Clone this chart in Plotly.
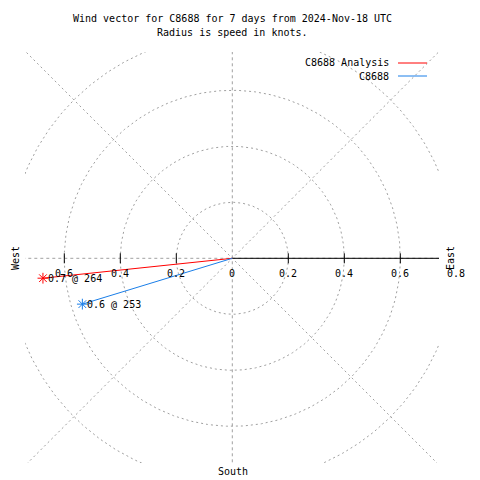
import numpy as np
import plotly.graph_objects as go

# ---- data ----
series_names = ["C8688 Analysis", "C8688"]
speeds = [0.68, 0.56]          # knots
directions = [264, 253]        # degrees (compass)
point_labels = ["0.7 @ 264", "0.6 @ 253"]
series_colors = ["#ff0000", "#1a7ee8"]

ring_values = [0.2, 0.4, 0.6, 0.8]
tick_values = [0.2, 0.4, 0.6]
right_tick_labels = ["0", "0.2", "0.4", "0.6", "0.8"]
right_tick_pos = [0.0, 0.2, 0.4, 0.6, 0.8]
left_tick_labels = ["0.2", "0.4", "0.6"]
left_tick_pos = [-0.2, -0.4, -0.6]
spoke_angles = [0, 45, 90, 135]

title_lines = ["Wind vector for C8688 for 7 days from 2024-Nov-18 UTC",
               "Radius is speed in knots."]

FONT = "DejaVu Sans Mono"
GRID = "#a0a0a0"

# page body has an 8px margin: design in reference pixels, shift by OFF
OFF = 8
W = H = 480 - OFF
# plot area in reference pixels: x 25..439, y 52..463
L = 25 - OFF
T = 52 - OFF
R = W - (439 - OFF)
B = H - (463 - OFF)
cx, cy = 232.3 - OFF, 258.3 - OFF
scale = 280.0
x_range = [(L - cx) / scale, (W - R - cx) / scale]
y_range = [-(H - B - cy) / scale, (cy - T) / scale]
pw = W - L - R
ph = H - T - B


def px(xr):
    return (xr - OFF - L) / pw


def py(yr):
    return (H - B - (yr - OFF)) / ph


fig = go.Figure()

# grid rings
th = np.linspace(0, 2 * np.pi, 721)
for r in ring_values:
    fig.add_trace(go.Scatter(x=r * np.cos(th), y=r * np.sin(th), mode="lines",
                             line=dict(color=GRID, width=1, dash="2px,3px"),
                             hoverinfo="skip", showlegend=False))
# spokes
for a in spoke_angles:
    rad = np.deg2rad(a)
    dash = "3px,3px" if a % 90 == 0 else "2px,3px"
    fig.add_trace(go.Scatter(x=[-1.2 * np.cos(rad), 1.2 * np.cos(rad)],
                             y=[-1.2 * np.sin(rad), 1.2 * np.sin(rad)], mode="lines",
                             line=dict(color=GRID, width=1, dash=dash),
                             hoverinfo="skip", showlegend=False))

# radial axis (solid, to the right)
fig.add_trace(go.Scatter(x=[0, 1.2], y=[0, 0], mode="lines",
                         line=dict(color="black", width=1),
                         hoverinfo="skip", showlegend=False))
# tick marks
tk = 5.0 / scale
tx, ty = [], []
for v in tick_values:
    for s in (-1, 1):
        tx += [s * v, s * v, None]
        ty += [-tk, tk, None]
fig.add_trace(go.Scatter(x=tx, y=ty, mode="lines", line=dict(color="black", width=1),
                         hoverinfo="skip", showlegend=False))

# data vectors
for name, s, d, lab, col in zip(series_names, speeds, directions, point_labels, series_colors):
    rad = np.deg2rad(d)
    x = s * np.sin(rad)
    y = s * np.cos(rad)
    fig.add_trace(go.Scatter(x=[0, x], y=[0, y], mode="lines",
                             line=dict(color=col, width=1), name=name, showlegend=False))
    fig.add_trace(go.Scatter(x=[x], y=[y], mode="markers",
                             marker=dict(symbol="asterisk-open", size=9, color=col,
                                         line=dict(color=col, width=1)),
                             showlegend=False, hoverinfo="skip", cliponaxis=False))
    fig.add_annotation(x=x, y=y, text=lab, showarrow=False, xanchor="left",
                       yanchor="middle", xshift=3,
                       font=dict(family=FONT, size=10, color="black"))


def fig_ann(xr, yr, text, **kw):
    fig.add_annotation(x=px(xr), y=py(yr), xref="paper", yref="paper",
                       text=text, showarrow=False,
                       font=dict(family=FONT, size=10, color="black"), **kw)


# tick labels (placed via the radial scale, 15 px below the axis)
for lbl, p in zip(right_tick_labels + left_tick_labels, right_tick_pos + left_tick_pos):
    fig_ann(232.3 + p * scale, 258.3 + 15, lbl, xanchor="center", yanchor="middle")

# titles
fig_ann(232, 19, title_lines[0], xanchor="center", yanchor="middle")
fig_ann(232, 32, title_lines[1], xanchor="center", yanchor="middle")
# compass labels
fig_ann(15, 258, "West", textangle=-90, xanchor="center", yanchor="middle")
fig_ann(450, 258, "East", textangle=-90, xanchor="center", yanchor="middle")
fig_ann(233, 471, "South", xanchor="center", yanchor="middle")

# legend (gnuplot style: text right, sample line after)
leg_y = [63, 76]
for name, col, yy in zip(series_names, series_colors, leg_y):
    fig_ann(391, yy, name, xanchor="right", yanchor="middle")
    fig.add_shape(type="line", xref="paper", yref="paper",
                  x0=px(398), x1=px(427), y0=py(yy), y1=py(yy),
                  line=dict(color=col, width=1))

fig.update_layout(
    width=W, height=H,
    margin=dict(l=L, r=R, t=T, b=B),
    paper_bgcolor="white", plot_bgcolor="white",
    showlegend=False,
    xaxis=dict(range=x_range, visible=False, showgrid=False, zeroline=False, fixedrange=True),
    yaxis=dict(range=y_range, visible=False, showgrid=False, zeroline=False, fixedrange=True),
    font=dict(family=FONT, size=10),
)

fig.write_html("out.html", config={"displayModeBar": False})
